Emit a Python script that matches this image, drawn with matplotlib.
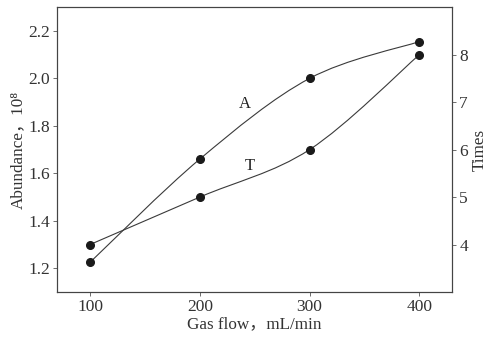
import numpy as np
import matplotlib
matplotlib.use("Agg")
import matplotlib.pyplot as plt
from matplotlib.path import Path
from matplotlib.patches import PathPatch

plt.rcParams['font.family'] = ['Liberation Serif', 'Noto Sans CJK SC']

gas_flow = [100, 200, 300, 400]
abundance = [1.225, 1.66, 2.0, 2.155]   # left axis, x10^8
times = [4.0, 5.0, 6.0, 8.0]            # right axis

line_col = '#3a3a3a'
dot_col = '#1a1a1a'


def smooth_path(xs, ys):
    # Catmull-Rom curve expressed as cubic bezier segments
    xs = np.asarray(xs, float)
    ys = np.asarray(ys, float)
    pts = np.column_stack([xs, ys])
    n = len(pts)
    verts = [pts[0]]
    codes = [Path.MOVETO]
    for i in range(n - 1):
        p0 = pts[i - 1] if i > 0 else pts[i]
        p1 = pts[i]
        p2 = pts[i + 1]
        p3 = pts[i + 2] if i + 2 < n else pts[i + 1]
        c1 = p1 + (p2 - p0) / 6.0
        c2 = p2 - (p3 - p1) / 6.0
        verts += [c1, c2, p2]
        codes += [Path.CURVE4] * 3
    return Path(verts, codes)


fig, ax = plt.subplots(figsize=(4.96, 3.4), dpi=100)
fig.subplots_adjust(left=0.115, right=0.912, top=0.979, bottom=0.141)
ax2 = ax.twinx()

ax.add_patch(PathPatch(smooth_path(gas_flow, abundance), fill=False,
                       edgecolor=line_col, lw=0.8))
ax.plot(gas_flow, abundance, 'o', color=dot_col, ms=5.5, zorder=3)

ax2.add_patch(PathPatch(smooth_path(gas_flow, times), fill=False,
                        edgecolor=line_col, lw=0.8))
ax2.plot(gas_flow, times, 'o', color=dot_col, ms=5.5, zorder=3)

ax.set_xlim(70, 430)
ax.set_ylim(1.1, 2.3)
ax2.set_ylim(3, 9)
ax.set_xticks(gas_flow)
ax.set_yticks([1.2, 1.4, 1.6, 1.8, 2.0, 2.2])
ax2.set_yticks([4, 5, 6, 7, 8])

ax.text(241, 1.89, 'A', fontsize=12, ha='center', va='center', color='#222222')
ax.text(246, 1.633, 'T', fontsize=12, ha='center', va='center', color='#222222')

ax.set_xlabel('Gas flow，mL/min', fontsize=12.3, color='#333333', labelpad=1)
ax.set_ylabel('Abundance，10⁸', fontsize=12.3, color='#333333', labelpad=2)
ax2.set_ylabel('Times', fontsize=12.3, color='#333333', labelpad=3)

for a in (ax, ax2):
    a.tick_params(direction='out', length=3, width=0.6, colors='#555555',
                  labelcolor='#333333', labelsize=12.5, pad=2)
    for s in a.spines.values():
        s.set_color('#444444')
        s.set_linewidth(0.8)

fig.savefig('out.png', dpi=100)
